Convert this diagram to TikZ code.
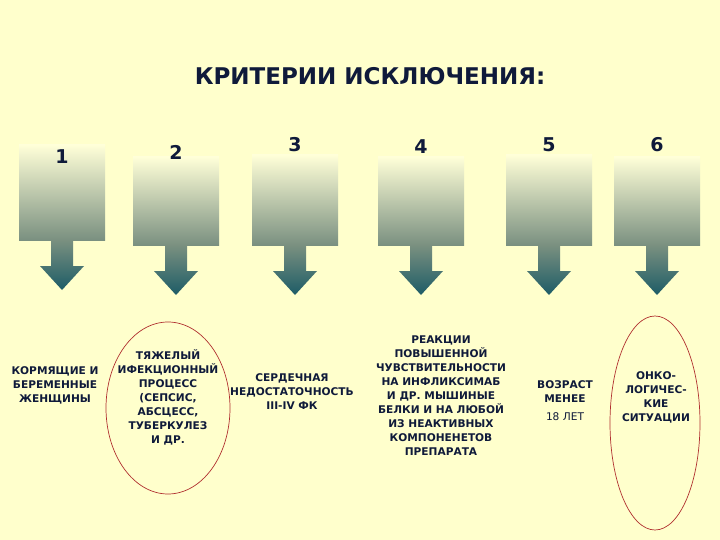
\documentclass[tikz,border=0pt]{standalone}
\usepackage{fontspec}
\setmainfont{DejaVu Sans}
\begin{document}
\begin{tikzpicture}[x=1pt,y=-1pt,
  txt/.style={font=\bfseries\fontsize{10.6}{14}\selectfont, text=navy, align=center, inner sep=0},
  num/.style={font=\bfseries\fontsize{19}{22}\selectfont, text=navy},
  ring/.style={draw=ringred, line width=0.7pt}]
\definecolor{bg}{HTML}{FFFFCC}
\definecolor{navy}{HTML}{0F1A3A}
\definecolor{ringred}{HTML}{B03030}
\definecolor{boxtop}{HTML}{FFFFD8}
\definecolor{boxbot}{HTML}{7A9080}
\definecolor{headbot}{HTML}{1D5C66}
\fill[bg] (0,0) rectangle (720,540);
\useasboundingbox (0,0) rectangle (720,540);
\node[font=\bfseries\fontsize{23}{26}\selectfont, text=navy] (title) at (370,76) {КРИТЕРИИ ИСКЛЮЧЕНИЯ:};
\foreach \i/\x/\t/\b/\n/\ny in {1/62/145/240/1/157, 2/176/157/245/2/152, 3/295/155/245/3/145, 4/421/157/245/4/147, 5/549/155/245/5/145, 6/657/157/245/6/145}{
  \shade[top color=boxtop, bottom color=boxbot] (\x-43,\t) rectangle (\x+43,\b);
  \shade[top color=boxbot, bottom color=headbot]
    (\x-11,\b) -- (\x+11,\b) -- (\x+11,\b+26) -- (\x+22,\b+26) -- (\x,\b+50) -- (\x-22,\b+26) -- (\x-11,\b+26) -- cycle;
  \node[num] (n\i) at (\x,\ny) {\n};
}
\node[txt] (c1) at (55,385) {КОРМЯЩИЕ И\\БЕРЕМЕННЫЕ\\ЖЕНЩИНЫ};
\node[txt] (c2) at (168,397) {ТЯЖЕЛЫЙ\\ИФЕКЦИОННЫЙ\\ПРОЦЕСС\\(СЕПСИС,\\АБСЦЕСС,\\ТУБЕРКУЛЕЗ\\И ДР.};
\node[txt] (c3) at (292,392) {СЕРДЕЧНАЯ\\НЕДОСТАТОЧНОСТЬ\\III-IV ФК};
\node[txt] (c4) at (441,396) {РЕАКЦИИ\\ПОВЫШЕННОЙ\\ЧУВСТВИТЕЛЬНОСТИ\\НА ИНФЛИКСИМАБ\\И ДР. МЫШИНЫЕ\\БЕЛКИ И НА ЛЮБОЙ\\ИЗ НЕАКТИВНЫХ\\КОМПОНЕНЕТОВ\\ПРЕПАРАТА};
\node[txt] (c5) at (565,401) {ВОЗРАСТ\\МЕНЕЕ\\[4pt]\mdseries 18 ЛЕТ};
\node[txt] (c6) at (656,397) {ОНКО-\\ЛОГИЧЕС-\\КИЕ\\СИТУАЦИИ};
\draw[ring] (168,408) ellipse [x radius=62, y radius=86];
\draw[ring] (655,423) ellipse [x radius=45, y radius=107];
\end{tikzpicture}
\end{document}
